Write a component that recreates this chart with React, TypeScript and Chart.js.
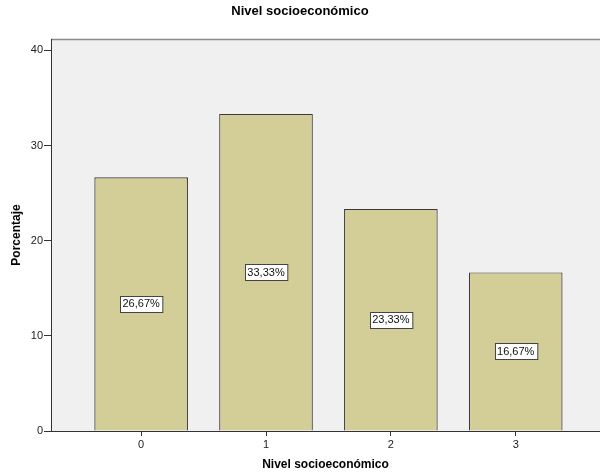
import React, { useEffect, useRef } from "react";
import { Chart, registerables } from "chart.js";

Chart.register(...registerables);

const chartTitle = "Nivel socioeconómico";
const xAxisTitle = "Nivel socioeconómico";
const yAxisTitle = "Porcentaje";
const categories = [0, 1, 2, 3];
const percentages = [26.67, 33.33, 23.33, 16.67];
const yTickStep = 10;

const FONT = '"Liberation Sans", Arial, sans-serif';

const backgroundPlugin = {
  id: "plotBackground",
  beforeDraw(chart: any) {
    const { ctx, chartArea } = chart;
    ctx.save();
    ctx.fillStyle = "#F0F0F0";
    ctx.fillRect(chartArea.left, chartArea.top, chartArea.right - chartArea.left, chartArea.bottom - chartArea.top);
    ctx.strokeStyle = "#8a8a8a";
    ctx.lineWidth = 1.5;
    ctx.beginPath();
    ctx.moveTo(chartArea.left, chartArea.top + 0.5);
    ctx.lineTo(chartArea.right, chartArea.top + 0.5);
    ctx.stroke();
    ctx.restore();
  },
};

const labelPlugin = {
  id: "barLabels",
  afterDatasetsDraw(chart: any) {
    const { ctx } = chart;
    const meta = chart.getDatasetMeta(0);
    ctx.save();
    ctx.font = "11px " + FONT;
    ctx.textAlign = "center";
    ctx.textBaseline = "middle";
    meta.data.forEach((bar: any, i: number) => {
      const text = percentages[i].toFixed(2).replace(".", ",") + "%";
      const cx = bar.x;
      const cy = (bar.y + bar.base) / 2;
      const w = ctx.measureText(text).width + 5;
      const h = 16;
      const x0 = Math.round(cx - w / 2) + 0.5;
      const y0 = Math.round(cy - h / 2) + 0.5;
      ctx.fillStyle = "#FFFFFF";
      ctx.fillRect(x0, y0, w, h);
      ctx.strokeStyle = "#444444";
      ctx.lineWidth = 1;
      ctx.strokeRect(x0, y0, w, h);
      ctx.fillStyle = "#111111";
      ctx.fillText(text, cx, cy + 0.5);
    });
    ctx.restore();
  },
};

export default function App() {
  const canvasRef = useRef<HTMLCanvasElement | null>(null);

  useEffect(() => {
    if (!canvasRef.current) return;
    Chart.defaults.font.family = FONT;
    const chart = new Chart(canvasRef.current, {
      type: "bar",
      data: {
        datasets: [
          {
            data: categories.map((c, i) => ({ x: c, y: percentages[i] })),
            backgroundColor: "#D3CE97",
            borderColor: "#3a3a3a",
            borderWidth: 1.2,
            barPercentage: 0.75,
            categoryPercentage: 1,
          },
        ],
      },
      options: {
        animation: false,
        responsive: true,
        maintainAspectRatio: false,
        layout: { padding: { left: 0, right: 0, top: 0, bottom: 0 } },
        plugins: {
          legend: { display: false },
          tooltip: { enabled: false },
          title: {
            display: true,
            text: chartTitle,
            color: "#000",
            font: { size: 13, weight: "bold", family: FONT },
            padding: { top: 4, bottom: 19.4 },
          },
        },
        scales: {
          x: {
            type: "linear",
            offset: false,
            min: -0.722,
            max: 3.675,
            afterFit(scale: any) {
              scale.height = 43;
            },
            ticks: {
              stepSize: 1,
              includeBounds: false,
              color: "#222",
              font: { size: 11, family: FONT },
              padding: 2,
              maxRotation: 0,
              callback: (v: any) => String(v),
            },
            grid: {
              offset: false,
              drawOnChartArea: false,
              drawTicks: true,
              tickLength: 5,
              tickColor: "#333",
              tickWidth: 1,
            },
            border: { display: true, color: "#333", width: 1 },
            title: {
              display: true,
              text: xAxisTitle,
              color: "#000",
              font: { size: 12, weight: "bold", family: FONT },
              padding: { top: 0, bottom: 2 },
            },
          },
          y: {
            type: "linear",
            min: 0,
            max: 41.2,
            afterFit(scale: any) {
              scale.width = 51;
            },
            ticks: {
              stepSize: yTickStep,
              includeBounds: false,
              color: "#222",
              font: { size: 11, family: FONT },
              padding: 1,
            },
            grid: {
              drawOnChartArea: false,
              drawTicks: true,
              tickLength: 7,
              tickColor: "#333",
              tickWidth: 1,
            },
            border: { display: true, color: "#333", width: 1 },
            title: {
              display: true,
              text: yAxisTitle,
              color: "#000",
              font: { size: 12, weight: "bold", family: FONT },
              padding: { top: 9, bottom: 0 },
            },
          },
        },
      } as any,
      plugins: [backgroundPlugin, labelPlugin],
    });
    return () => chart.destroy();
  }, []);

  return (
    <div style={{ position: "fixed", left: 0, top: 0, width: 600, height: 474, background: "#fff" }}>
      <canvas ref={canvasRef} />
    </div>
  );
}
